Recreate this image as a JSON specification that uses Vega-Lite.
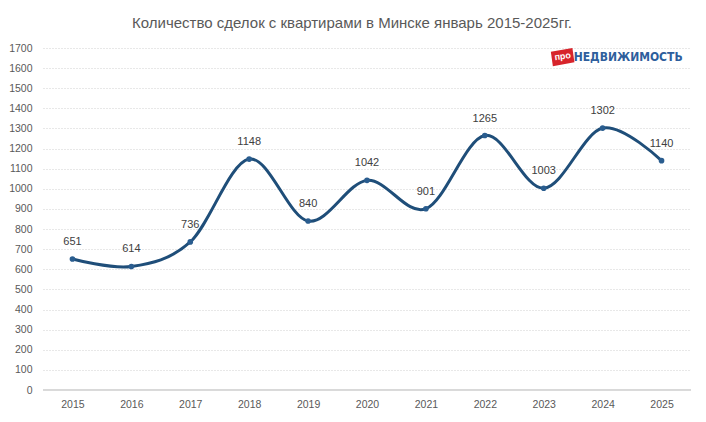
{
  "$schema": "https://vega.github.io/schema/vega-lite/v6.json",
  "autosize": {"type": "none"},
  "padding": {"left": 43, "top": 48, "right": 15, "bottom": 32},
  "width": 648,
  "height": 342,
  "background": "white",
  "config": {
    "view": {"stroke": null},
    "font": "Liberation Sans",
    "axis": {"labelFont": "Liberation Sans", "labelFontSize": 10.5, "labelColor": "#595959", "domain": false, "ticks": false, "title": null}
  },
  "title": {
    "text": "Количество сделок с квартирами в Минске январь 2015-2025гг.",
    "font": "Liberation Sans",
    "fontSize": 15,
    "fontWeight": "normal",
    "color": "#595959",
    "anchor": "middle",
    "dx": -15,
    "offset": 12
  },
  "datasets": {
    "deals": [
      {"year": "2015", "deals": 651},
      {"year": "2016", "deals": 614},
      {"year": "2017", "deals": 736},
      {"year": "2018", "deals": 1148},
      {"year": "2019", "deals": 840},
      {"year": "2020", "deals": 1042},
      {"year": "2021", "deals": 901},
      {"year": "2022", "deals": 1265},
      {"year": "2023", "deals": 1003},
      {"year": "2024", "deals": 1302},
      {"year": "2025", "deals": 1140}
    ],
    "logo": [{"year": "2024", "deals": 1655, "word": "НЕДВИЖИМОСТЬ", "badge": "про"}]
  },
  "data": {"name": "deals"},
  "encoding": {
    "x": {"field": "year", "type": "ordinal", "axis": {"labelAngle": 0, "grid": false, "labelPadding": 9}},
    "y": {
      "field": "deals", "type": "quantitative",
      "scale": {"domain": [0, 1700]},
      "axis": {"values": [0,100,200,300,400,500,600,700,800,900,1000,1100,1200,1300,1400,1500,1600,1700], "format": "d", "gridColor": "#d0d0d0", "gridDash": [1, 2], "gridWidth": 1, "labelPadding": 11}
    }
  },
  "layer": [
    {
      "mark": {"type": "rule", "color": "#d9d9d9", "strokeWidth": 1},
      "encoding": {"x": null, "y": {"datum": 0}}
    },
    {
      "mark": {"type": "line", "interpolate": "cardinal", "tension": 0, "color": "#1f4e79", "strokeWidth": 3}
    },
    {
      "mark": {"type": "point", "filled": true, "size": 32, "color": "#2a5d8f", "opacity": 1}
    },
    {
      "mark": {"type": "text", "dy": -17, "fontSize": 11, "color": "#404040"},
      "encoding": {"text": {"field": "deals", "type": "quantitative"}}
    },
    {
      "data": {"name": "logo"},
      "mark": {"type": "point", "shape": "M-1,-0.62L1,-0.7L1,0.62L-1,0.7Z", "filled": true, "color": "#d7242b", "size": 480, "angle": -8, "opacity": 1, "xOffset": -40}
    },
    {
      "data": {"name": "logo"},
      "mark": {"type": "text", "color": "white", "fontSize": 9, "fontWeight": "bold", "angle": -8, "baseline": "middle", "align": "center", "xOffset": -40, "yOffset": -1},
      "encoding": {"text": {"field": "badge"}}
    },
    {
      "data": {"name": "logo"},
      "mark": {"type": "text", "color": "#2e5e9c", "fontSize": 12, "fontWeight": "bold", "font": "DejaVu Sans Condensed, Roboto Condensed, Roboto", "align": "left", "dx": -29},
      "encoding": {"text": {"field": "word"}}
    }
  ]
}
